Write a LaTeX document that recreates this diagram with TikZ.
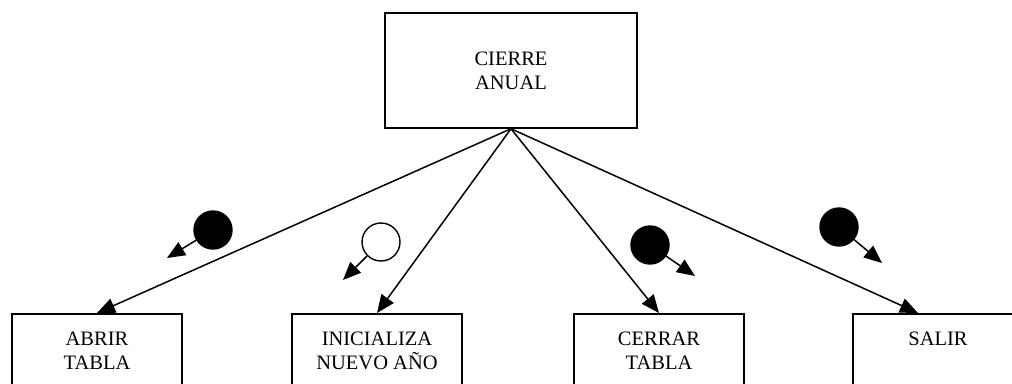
\documentclass[tikz,border=0pt]{standalone}
\usepackage{fontspec}
\setmainfont{Liberation Serif}
\usetikzlibrary{arrows.meta,calc}

\begin{document}
\begin{tikzpicture}[x=1pt, y=-1pt,
    modulo/.style={draw, line width=1.5pt, minimum width=170pt, minimum height=74pt, anchor=north, align=center, font=\fontsize{20.5}{24}\selectfont},
    flujo/.style={line width=1.5pt, -{Triangle[length=18pt,width=15pt]}},
    control/.style={circle, draw, line width=1.4pt, fill=black, minimum size=38pt, inner sep=0pt},
    dato/.style={control, fill=white}]
            \path[use as bounding box, clip] (0,0) rectangle (1012,383);
            % modulos
            \node[modulo, anchor=center, minimum width=252pt, minimum height=115pt] (cierre) at (511,70.5) {CIERRE\\ANUAL};
            \node[modulo] (abrir) at (97,313) {ABRIR\\TABLA};
            \node[modulo] (inicializa) at (377,313) {INICIALIZA\\NUEVO AÑO};
            \node[modulo] (cerrar) at (659,313) {CERRAR\\TABLA};
            \node[modulo] (salir) at (938,313) {SALIR\\\phantom{X}};
            \draw[flujo] (cierre.south) -- (abrir.north);
            \draw[flujo] (cierre.south) -- (inicializa.north);
            \draw[flujo] (cierre.south) -- (cerrar.north);
            \draw[flujo] (cierre.south) -- ([xshift=-20pt]salir.north);
            % acoplamientos
            \node[control] (c1) at (213,230) {};
            \coordinate (c1t) at (167,258);
            \draw[flujo] (c1) -- (c1t);
            \node[dato] (c2) at (381,242) {};
            \coordinate (c2t) at (343,280);
            \draw[flujo] (c2) -- (c2t);
            \node[control] (c3) at (650,245) {};
            \coordinate (c3t) at (695,276);
            \draw[flujo] (c3) -- (c3t);
            \node[control] (c4) at (839,227) {};
            \coordinate (c4t) at (882,263);
            \draw[flujo] (c4) -- (c4t);
        \end{tikzpicture}
\end{document}
